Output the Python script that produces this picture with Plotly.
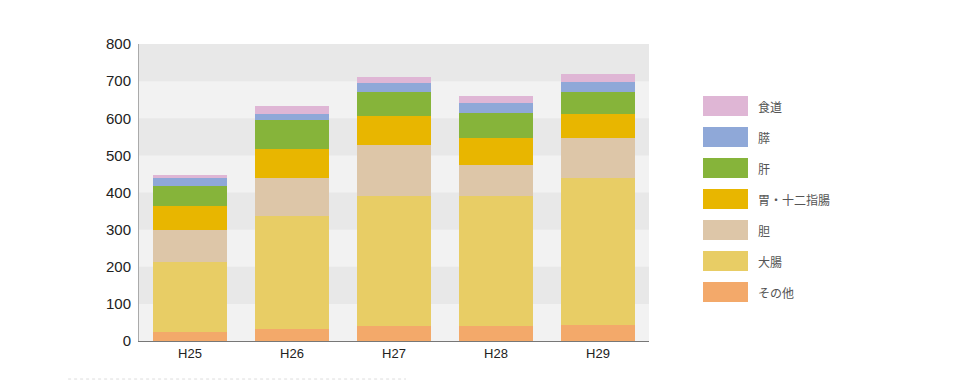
import plotly.graph_objects as go

years = ["H25", "H26", "H27", "H28", "H29"]
series_names = ["その他", "大腸", "胆", "胃・十二指腸", "肝", "膵", "食道"]
other = [25, 33, 40, 40, 44]
large_intestine = [187, 303, 351, 351, 396]
gall = [87, 102, 137, 84, 108]
stomach = [65, 80, 79, 73, 63]
liver = [54, 76, 63, 67, 60]
pancreas = [20, 18, 24, 27, 27]
esophagus = [9, 20, 16, 17, 22]
series_values = [other, large_intestine, gall, stomach, liver, pancreas, esophagus]
colors = ["#f3a96a", "#e8cd65", "#ddc6a8", "#e8b600", "#86b43a", "#8fa8d8", "#dfb6d5"]
y_ticks = [0, 100, 200, 300, 400, 500, 600, 700, 800]

fig = go.Figure()
for name, vals, col in zip(series_names, series_values, colors):
    fig.add_trace(go.Bar(x=years, y=vals, name=name, marker=dict(color=col, line=dict(width=0)),
                         showlegend=False))

shapes = []
# alternating background bands
for lo in [100, 300, 500, 700]:
    shapes.append(dict(type="rect", xref="paper", yref="y", x0=0, x1=1, y0=lo, y1=lo + 100,
                       fillcolor="#e8e8e8", line=dict(width=0), layer="below"))
# dotted line under chart
shapes.append(dict(type="line", xref="paper", yref="paper", x0=-0.139, x1=0.5235, y0=-0.128, y1=-0.128,
                   line=dict(color="#dddddd", width=1, dash="dot")))

annotations = []
# custom legend (top to bottom: reverse order)
row_px = 31
for i, (name, col) in enumerate(zip(series_names[::-1], colors[::-1])):
    cy = 105 + i * row_px
    yc = (340 - cy) / 297
    shapes.append(dict(type="rect", xref="paper", yref="paper", x0=1.1059, x1=1.1941,
                       y0=yc - 10 / 297, y1=yc + 10 / 297, fillcolor=col, line=dict(width=0)))
    annotations.append(dict(xref="paper", yref="paper", x=1.2098, y=yc, text=name, showarrow=False,
                            xanchor="left", yanchor="middle",
                            font=dict(family="Noto Sans CJK JP", size=12, color="#555555")))

fig.update_layout(
    barmode="stack",
    bargap=0.28,
    width=962, height=384,
    margin=dict(l=131, r=321, t=36, b=51),
    plot_bgcolor="#f2f2f2",
    paper_bgcolor="#ffffff",
    shapes=shapes,
    annotations=annotations,
    font=dict(family="Liberation Sans, Arial, sans-serif", size=13, color="#222222"),
    xaxis=dict(showgrid=False, showline=True, linecolor="#777777", linewidth=1,
               ticks="", tickfont=dict(size=13)),
    yaxis=dict(range=[0, 800], tickvals=y_ticks, showgrid=False, zeroline=False,
               showline=True, linecolor="#aaaaaa", linewidth=1, ticks="",
               ticklabelstandoff=4, tickfont=dict(size=15)),
)

fig.write_html("out.html")
